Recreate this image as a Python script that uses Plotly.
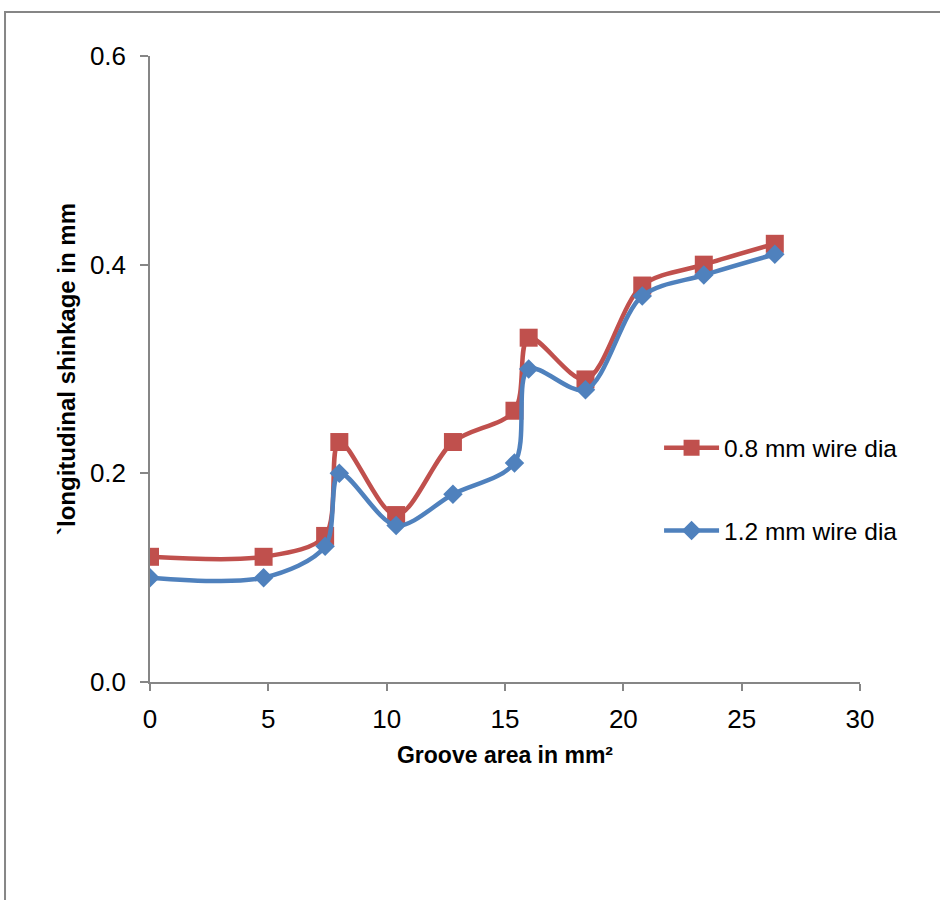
import plotly.graph_objects as go

groove_area = [0, 4.8, 7.4, 8.0, 10.4, 12.8, 15.4, 16.0, 18.4, 20.8, 23.4, 26.4]
shrink_08 = [0.12, 0.12, 0.14, 0.23, 0.16, 0.23, 0.26, 0.33, 0.29, 0.38, 0.40, 0.42]
shrink_12 = [0.10, 0.10, 0.13, 0.20, 0.15, 0.18, 0.21, 0.30, 0.28, 0.37, 0.39, 0.41]
series_names = ["0.8 mm wire dia", "1.2 mm wire dia"]
x_ticks = [0, 5, 10, 15, 20, 25, 30]
y_ticks = [0.0, 0.2, 0.4, 0.6]

RED = "#C0504D"
BLUE = "#4F81BD"
AXIS = "#868686"
FONT = "Liberation Sans, Arial, sans-serif"

fig = go.Figure()
fig.add_trace(go.Scatter(
    x=groove_area, y=shrink_08, name=series_names[0], mode="lines+markers",
    line=dict(color=RED, width=4.5, shape="spline", smoothing=0.9),
    marker=dict(symbol="square", size=18, color=RED),
    legendgroup="a",
))
fig.add_trace(go.Scatter(
    x=groove_area, y=shrink_12, name=series_names[1], mode="lines+markers",
    line=dict(color=BLUE, width=4.5, shape="spline", smoothing=0.9),
    marker=dict(symbol="diamond", size=15, color=BLUE),
    legendgroup="b",
))

fig.update_layout(
    width=940, height=900,
    margin=dict(l=150, r=80, t=56, b=218),
    paper_bgcolor="white", plot_bgcolor="white",
    font=dict(family=FONT, color="black", size=24),
    showlegend=True,
    legend=dict(
        x=0.717, y=0.41, xanchor="left", yanchor="top",
        font=dict(size=24.5, family=FONT),
        itemwidth=55,
        tracegroupgap=48, bgcolor="rgba(0,0,0,0)",
    ),
    xaxis=dict(
        range=[0, 30], tickvals=x_ticks, ticktext=[str(v) for v in x_ticks],
        showgrid=False, zeroline=False, showline=True, linecolor=AXIS, linewidth=1.5,
        ticks="outside", ticklen=7, tickcolor=AXIS, tickwidth=1.5,
        ticklabelstandoff=6,
        tickfont=dict(size=26, family=FONT),
        title=dict(text="<b>Groove area in mm²</b>", font=dict(size=23, family=FONT), standoff=14),
    ),
    yaxis=dict(
        range=[0, 0.6], tickvals=y_ticks, ticktext=[f"{v:.1f}" for v in y_ticks],
        showgrid=False, zeroline=False, showline=True, linecolor=AXIS, linewidth=1.5,
        ticks="outside", ticklen=8, tickcolor=AXIS, tickwidth=1.5,
        ticklabelstandoff=9,
        tickfont=dict(size=26, family=FONT),
        title=dict(text="<b>`longitudinal shinkage in mm</b>", font=dict(size=24, family=FONT), standoff=7),
    ),
    shapes=[dict(
        type="rect", xref="paper", yref="paper",
        x0=-0.2042, x1=1.2, y0=-0.4, y1=1.0703,
        line=dict(color=AXIS, width=2), fillcolor="rgba(0,0,0,0)", layer="below",
    )],
)

fig.write_html("out.html")
